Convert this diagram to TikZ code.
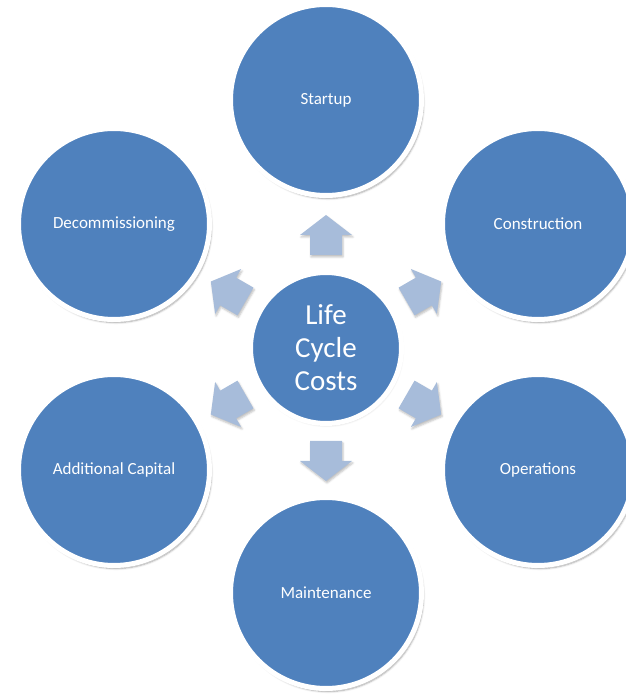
\documentclass[tikz,border=0pt]{standalone}
\usepackage{fontspec}
\setmainfont{Carlito}
\usetikzlibrary{shadows.blur}

\definecolor{discblue}{RGB}{79,129,189}
\definecolor{arrowtint}{RGB}{167,188,218}

\tikzset{
  phase/.style={circle, fill=discblue, draw=white, line width=5pt,
    minimum size=191pt, inner sep=0pt, text=white,
    font=\fontsize{17}{20}\selectfont,
    blur shadow={shadow xshift=2pt, shadow yshift=-3pt, shadow blur steps=6, shadow opacity=35}},
  hub/.style={circle, fill=discblue, draw=white, line width=5pt,
    minimum size=151pt, inner sep=0pt, text=white, align=center,
    font=\fontsize{29}{33}\selectfont,
    blur shadow={shadow xshift=1pt, shadow yshift=-2pt, shadow blur steps=5, shadow opacity=20}},
  blockarrow/.style={fill=arrowtint,
    blur shadow={shadow xshift=1pt, shadow yshift=-2pt, shadow blur steps=4, shadow opacity=25}}
}

\begin{document}
\begin{tikzpicture}[x=1pt,y=1pt]
  \useasboundingbox (0,0) rectangle (626,694);
  \clip (0,0) rectangle (626,694);

  % outer phases of the life cycle
  \node[phase] (startup)  at (326,594) {Startup};
  \node[phase] (constr)   at (538,470) {Construction};
  \node[phase] (ops)      at (538,224) {Operations};
  \node[phase] (maint)    at (326,101) {Maintenance};
  \node[phase] (addcap)   at (114,224) {Additional Capital};
  \node[phase] (decom)    at (114,470) {Decommissioning};

  % central hub
  \node[hub] (lcc) at (326,346) {Life\\Cycle\\Costs};

  % block arrows pointing from the hub to each phase
  \foreach \ang in {90,30,-30,-90,-150,150} {
    \begin{scope}[shift={(lcc.center)}, rotate=\ang]
      \fill[blockarrow] (93,-16) -- (113,-16) -- (113,-26) -- (133,0)
        -- (113,26) -- (113,16) -- (93,16) -- cycle;
    \end{scope}
  }
\end{tikzpicture}
\end{document}
